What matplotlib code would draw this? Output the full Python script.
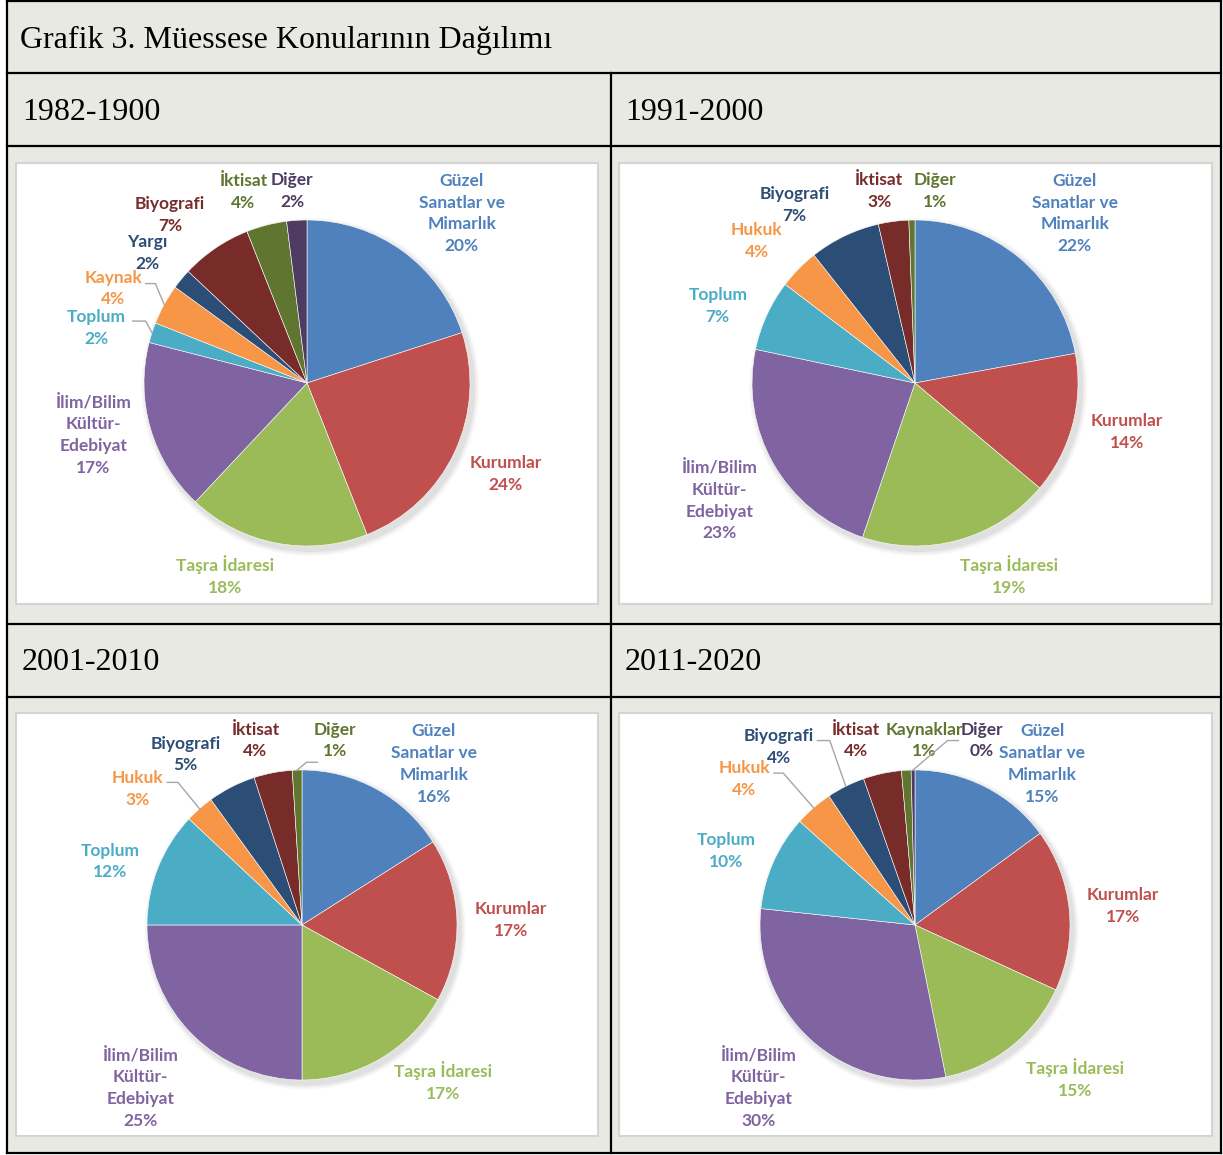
import numpy as np
import matplotlib.pyplot as plt
from matplotlib.patches import Rectangle

# --- DATA ---
TITLE = "Grafik 3. Müessese Konularının Dağılımı"
PERIODS = ["1982-1900", "1991-2000", "2001-2010", "2011-2020"]

LABELS_1 = ["Güzel\nSanatlar ve\nMimarlık", "Kurumlar", "Taşra İdaresi", "İlim/Bilim\nKültür-\nEdebiyat",
            "Toplum", "Kaynak", "Yargı", "Biyografi", "İktisat", "Diğer"]
VALUES_1 = [20, 24, 18, 17, 2, 4, 2, 7, 4, 2]

LABELS_2 = ["Güzel\nSanatlar ve\nMimarlık", "Kurumlar", "Taşra İdaresi", "İlim/Bilim\nKültür-\nEdebiyat",
            "Toplum", "Hukuk", "Biyografi", "İktisat", "Diğer"]
VALUES_2 = [22, 14, 19, 23, 7, 4, 7, 3, 0.6]

LABELS_3 = ["Güzel\nSanatlar ve\nMimarlık", "Kurumlar", "Taşra İdaresi", "İlim/Bilim\nKültür-\nEdebiyat",
            "Toplum", "Hukuk", "Biyografi", "İktisat", "Diğer"]
VALUES_3 = [16, 17, 17, 25, 12, 3, 5, 4, 1]

LABELS_4 = ["Güzel\nSanatlar ve\nMimarlık", "Kurumlar", "Taşra İdaresi", "İlim/Bilim\nKültür-\nEdebiyat",
            "Toplum", "Hukuk", "Biyografi", "İktisat", "Kaynaklar", "Diğer"]
VALUES_4 = [15, 17, 15, 30, 10, 4, 4, 4, 1, 0.4]

# excel 2010 palette, used in slice order
COLORS = ["#4F81BD", "#C0504D", "#9BBB59", "#8064A2", "#4BACC6",
          "#F79646", "#2C4D75", "#772C2A", "#5F7530", "#4D3B62"]

# label positions (pie radius units, relative to centre)
POS_1 = [(0.95, 1.04), (1.22, -0.56), (-0.50, -1.18), (-1.31, -0.32), (-1.29, 0.34),
         (-1.19, 0.58), (-0.98, 0.80), (-0.84, 1.03), (-0.39, 1.17), (-0.09, 1.18)]
POS_2 = [(0.98, 1.04), (1.30, -0.30), (0.58, -1.18), (-1.20, -0.72), (-1.21, 0.47),
         (-0.97, 0.87), (-0.74, 1.09), (-0.22, 1.18), (0.12, 1.18)]
POS_3 = [(0.85, 1.04), (1.35, 0.03), (0.91, -1.01), (-1.04, -1.05), (-1.24, 0.41),
         (-1.06, 0.88), (-0.75, 1.10), (-0.30, 1.19), (0.21, 1.19)]
POS_4 = [(0.82, 1.04), (1.34, 0.12), (1.03, -0.99), (-1.01, -1.05), (-1.22, 0.48),
         (-1.10, 0.94), (-0.88, 1.15), (-0.38, 1.19), (0.06, 1.19), (0.43, 1.19)]

# leader lines: slice index, start point, elbow x
LEAD_1 = [(4, (-1.07, 0.38), -0.99), (5, (-0.99, 0.61), -0.93)]
LEAD_2 = []
LEAD_3 = [(5, (-0.87, 0.92), -0.80), (8, (0.10, 1.05), 0.03)]
LEAD_4 = [(5, (-0.91, 0.98), -0.85), (6, (-0.63, 1.19), -0.55), (9, (0.28, 1.19), 0.21)]

W, H = 1223, 1155
BG = "#E9E9E4"

plt.rcParams['font.family'] = ['Lato', 'DejaVu Sans']

fig = plt.figure(figsize=(W / 100, H / 100), dpi=100)
fig.patch.set_facecolor("white")

# --- table background ---
bg = fig.add_axes([0, 0, 1, 1])
bg.set_xlim(0, W)
bg.set_ylim(H, 0)
bg.axis('off')
bg.add_patch(Rectangle((7, 1), 1214, 1152, facecolor=BG, edgecolor='none'))

lw = 1.6
for y in [1, 73, 146, 624, 697, 1153]:
    bg.plot([7, 1221], [y, y], color='black', lw=lw, solid_capstyle='projecting')
bg.plot([7, 7], [1, 1153], color='black', lw=lw)
bg.plot([1221, 1221], [1, 1153], color='black', lw=lw)
bg.plot([611, 611], [73, 1153], color='black', lw=lw)

serif = ['Liberation Serif', 'DejaVu Serif']
bg.text(20, 40, TITLE, fontsize=23, family=serif, va='center', ha='left')
for (x, y), txt in zip([(22, 112), (625, 112), (22, 663), (625, 663)], PERIODS):
    bg.text(x, y, txt, fontsize=23, family=serif, va='center', ha='left')

# white chart boxes: (x0, y0, x1, y1), pie centre, radius in px
panels = [
    ((16, 163, 598, 604), (307, 383), 163, LABELS_1, VALUES_1, POS_1, LEAD_1),
    ((619, 163, 1212, 604), (915, 383), 163, LABELS_2, VALUES_2, POS_2, LEAD_2),
    ((16, 713, 598, 1136), (302, 925), 155, LABELS_3, VALUES_3, POS_3, LEAD_3),
    ((619, 713, 1212, 1136), (915, 925), 155, LABELS_4, VALUES_4, POS_4, LEAD_4),
]

for (x0, y0, x1, y1), (cx, cy), r, labels, values, pos, leads in panels:
    bg.add_patch(Rectangle((x0, y0), x1 - x0, y1 - y0, facecolor='white',
                           edgecolor='#D4D4D4', lw=1.5))

    ax = fig.add_axes([x0 / W, 1 - y1 / H, (x1 - x0) / W, (y1 - y0) / H])
    # soft shadow behind pie
    for k, a in enumerate([0.05, 0.04, 0.03]):
        ax.add_patch(plt.Circle((0.02, -0.025), 1.0 + 0.012 * (k + 1), color='black',
                                alpha=a, lw=0, zorder=0))
    wedges, _ = ax.pie(values, colors=COLORS[:len(values)], startangle=90, counterclock=False,
                       wedgeprops=dict(edgecolor='white', linewidth=0.4))
    ax.set_aspect('auto')
    ax.set_xlim((x0 - cx) / r, (x1 - cx) / r)
    ax.set_ylim((cy - y1) / r, (cy - y0) / r)
    ax.axis('off')

    total = sum(values)
    for i, (lab, v) in enumerate(zip(labels, values)):
        px, py = pos[i]
        ax.text(px, py, f"{lab}\n{v / total * 100:.0f}%", color=COLORS[i], fontsize=12.5,
                fontweight='bold', ha='center', va='center', multialignment='center',
                linespacing=1.45)

    for i, (sx, sy), ex in leads:
        w = wedges[i]
        mid = np.deg2rad((w.theta1 + w.theta2) / 2)
        tx, ty = np.cos(mid), np.sin(mid)
        ax.plot([sx, ex, tx], [sy, sy, ty], color='#A6A6A6', lw=1.0, zorder=3)

fig.savefig("out.png", dpi=100)
